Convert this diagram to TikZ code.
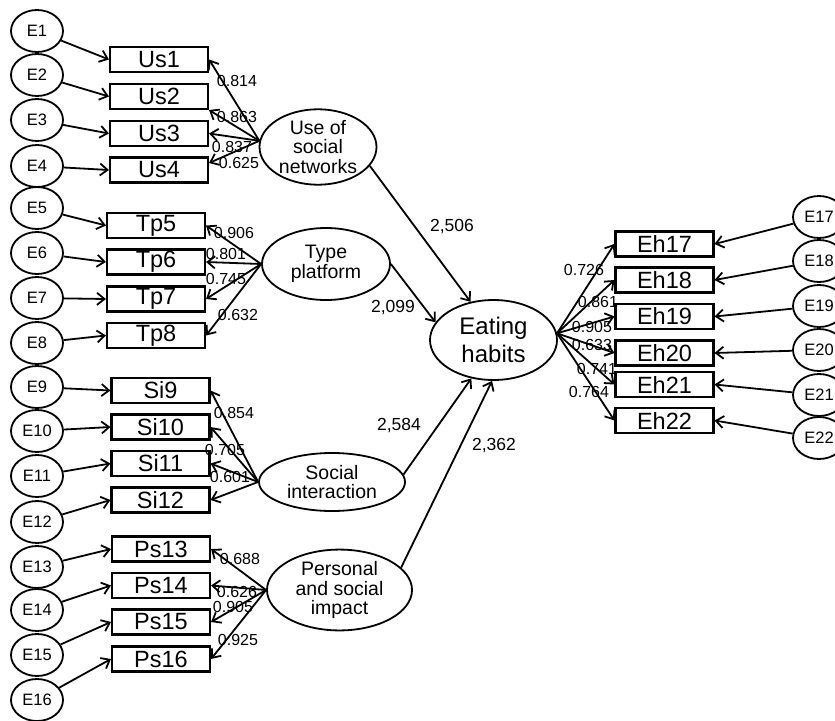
\documentclass[tikz,border=0pt]{standalone}
\usepackage{fontspec}
\setmainfont{Liberation Sans}
\usetikzlibrary{arrows.meta,shapes.geometric,calc}
\begin{document}
\begin{tikzpicture}[x=1pt,y=-1pt,
  err/.style={draw, ellipse, line width=1.8pt, minimum width=52pt, minimum height=42pt, inner sep=0pt, font=\fontsize{16.5}{18}\selectfont},
  obs/.style={draw, rectangle, line width=2.1pt, minimum width=98pt, minimum height=25pt, inner sep=0pt, font=\fontsize{23.5}{25}\selectfont},
  lat/.style={draw, ellipse, line width=1.8pt, inner sep=0pt, align=center, font=\fontsize{19.5}{19.5}\selectfont},
  arr/.style={line width=1.8pt, -{Straight Barb[length=7.5pt,width=12pt]}},
  lbl/.style={font=\fontsize{16}{16}\selectfont, inner sep=0pt},
  blbl/.style={font=\fontsize{17.5}{18}\selectfont, inner sep=0pt}
]
\clip (0,0) rectangle (835,720);
\fill[white] (0,0) rectangle (835,720);

% error terms left
\foreach \n/\y in {1/31,2/75,3/120,4/166,5/208,6/253,7/298,8/343,9/387,10/431,11/476,12/522,13/567,14/610,15/655,16/700}
  \node[err] (E\n) at (37,\y) {E\n};
% error terms right
\foreach \n/\y in {17/217,18/261,19/306,20/350,21/395,22/438}
  \node[err] (E\n) at (819,\y) {E\n};

% observed
\node[obs] (Us1) at (159,59.5) {Us1};
\node[obs] (Us2) at (159,96.5) {Us2};
\node[obs] (Us3) at (159,133.5) {Us3};
\node[obs] (Us4) at (159,170) {Us4};
\node[obs] (Tp5) at (156,225.5) {Tp5};
\node[obs] (Tp6) at (156,262) {Tp6};
\node[obs] (Tp7) at (156,299) {Tp7};
\node[obs] (Tp8) at (156,335.5) {Tp8};
\node[obs] (Si9) at (160.5,390.5) {Si9};
\node[obs] (Si10) at (160.5,427) {Si10};
\node[obs] (Si11) at (160.5,463.5) {Si11};
\node[obs] (Si12) at (160.5,500) {Si12};
\node[obs] (Ps13) at (161,549) {Ps13};
\node[obs] (Ps14) at (161,585.5) {Ps14};
\node[obs] (Ps15) at (161,622) {Ps15};
\node[obs] (Ps16) at (161,659) {Ps16};
\node[obs] (Eh17) at (664.5,244) {Eh17};
\node[obs] (Eh18) at (664.5,280) {Eh18};
\node[obs] (Eh19) at (664.5,316.5) {Eh19};
\node[obs] (Eh20) at (664.5,353) {Eh20};
\node[obs] (Eh21) at (664.5,384.5) {Eh21};
\node[obs] (Eh22) at (664.5,420.5) {Eh22};

% latent
\node[lat, minimum width=117pt, minimum height=68pt] (Use) at (318,147) {Use of\\social\\networks};
\node[lat, minimum width=128pt, minimum height=72pt] (Type) at (326,264) {Type\\platform};
\node[lat, minimum width=146pt, minimum height=58pt] (Soc) at (332,482) {Social\\interaction};
\node[lat, minimum width=145pt, minimum height=64pt] (Per) at (339.5,590) {Personal\\and social\\impact};
\node[lat, minimum width=127pt, minimum height=80pt, font=\fontsize{24}{28}\selectfont] (Eat) at (493.5,340) {Eating\\habits};

% error arrows
\foreach \n/\b in {1/Us1,2/Us2,3/Us3,4/Us4,5/Tp5,6/Tp6,7/Tp7,8/Tp8,9/Si9,10/Si10,11/Si11,12/Si12,13/Ps13,14/Ps14,15/Ps15,16/Ps16}
  \draw[arr] (E\n) -- (\b.west);
\foreach \n/\b in {17/Eh17,18/Eh18,19/Eh19,20/Eh20,21/Eh21,22/Eh22}
  \draw[arr] (E\n) -- (\b.east);

% loadings
\draw[arr] (Use.174) -- (Us1.east);
\draw[arr] (Use.174) -- (Us2.south east);
\draw[arr] (Use.174) -- (Us3.east);
\draw[arr] (Use.174) -- ($(Us4.east)+(0,-7)$);
\foreach \b in {Tp5,Tp6,Tp7,Tp8} \draw[arr] (Type.west) -- (\b.east);
\foreach \b in {Si9,Si10,Si11,Si12} \draw[arr] (Soc.west) -- (\b.east);
\foreach \b in {Ps13,Ps14,Ps15,Ps16} \draw[arr] (Per.west) -- (\b.east);
\foreach \b in {Eh17,Eh18,Eh19,Eh20,Eh21,Eh22} \draw[arr] (Eat.6) -- (\b.west);

% structural
\draw[arr] (Use.-20) -- (Eat.121);
\draw[arr] (Type.east) -- (Eat.163);
\draw[arr] (Soc.6) -- (Eat.240);
\draw[arr] (Per.20) -- (Eat.268);

% labels
\node[lbl] (l1) at (237,81) {0.814};
\node[lbl] (l2) at (237,117) {0.863};
\node[lbl] (l3) at (232,147) {0.837};
\node[lbl] (l4) at (239,163) {0.625};
\node[lbl] (l5) at (234,233) {0.906};
\node[lbl] (l6) at (226,254) {0.801};
\node[lbl] (l7) at (226,279) {0.745};
\node[lbl] (l8) at (238,315) {0.632};
\node[lbl] (l9) at (234,413) {0.854};
\node[lbl] (l10) at (225,450) {0.705};
\node[lbl] (l11) at (230,477) {0.601};
\node[lbl] (l13) at (240,559) {0.688};
\node[lbl] (l14) at (237,592) {0.626};
\node[lbl] (l15) at (233,607) {0.905};
\node[lbl] (l16) at (238,640) {0.925};
\node[lbl] (l17) at (584,270) {0.726};
\node[lbl] (l18) at (598,302) {0.861};
\node[lbl] (l19) at (592,327) {0.905};
\node[lbl] (l20) at (592,345) {0.633};
\node[lbl] (l21) at (597,369) {0.741};
\node[lbl] (l22) at (589,392) {0.764};
\node[blbl] (s1) at (452,227) {2,506};
\node[blbl] (s2) at (393,308) {2,099};
\node[blbl] (s3) at (399,426) {2,584};
\node[blbl] (s4) at (494,446) {2,362};
\end{tikzpicture}
\end{document}
